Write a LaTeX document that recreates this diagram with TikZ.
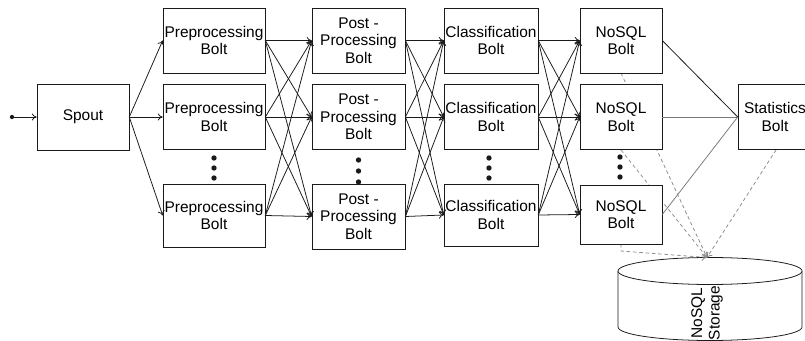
\documentclass[tikz,border=0pt]{standalone}
\usepackage{fontspec}
\setmainfont{Liberation Sans}
\usepackage{xcolor}
\usepackage{tikz}
\usetikzlibrary{arrows.meta,calc}
\definecolor{ink}{HTML}{1A1A1A}
\definecolor{soft}{HTML}{7A7A7A}
\definecolor{dsh}{HTML}{8C8C8C}
\tikzset{
  bolt/.style={draw=ink,fill=white,inner sep=1pt,align=center,minimum height=1.63cm,
    font=\fontsize{11}{12.5}\selectfont},
  arr/.style={-{To[length=3.5pt,width=5pt]},line width=0.55pt,ink},
  feed/.style={line width=0.55pt,soft},
  store/.style={-{To[length=3.5pt,width=5pt]},dash pattern=on 2.5pt off 2pt,line width=0.55pt,dsh},
}

\begin{document}
\begin{tikzpicture}[x=0.025cm,y=-0.025cm]
\useasboundingbox (0,0) rectangle (805,341);
% storage drum first, so the boxes hide the dashed writes
\draw[ink,line width=0.55pt,fill=white] (618,271) -- (618,327)
  arc[start angle=180,end angle=0,x radius=92,y radius=13.5] -- (802,271);
\draw[ink,line width=0.55pt,fill=white] (710,271) ellipse[x radius=92,y radius=13.5];
\coordinate (dbtop) at (707,257.5);
\node[rotate=90,align=center,inner sep=0pt,font=\fontsize{11}{12.5}\selectfont] (db) at (707,313) {NoSQL\\Storage};
\coordinate (q1) at (621,73);
\coordinate (q2) at (621,150);
\coordinate (q3) at (621,244);
\coordinate (q4) at (776,150);
\draw[store] (q1) -- (dbtop);
\draw[store] (q2) -- (dbtop);
\draw[store] (q3) -- ++(0,7) -- (dbtop);
\draw[store] (q4) -- (dbtop);
% input
\coordinate (in) at (12,117);
\fill[ink] (in) circle (1.5pt);
\node[bolt,minimum width=2.3cm,minimum height=1.65cm] (spout) at (83,117) {Spout};
\draw[arr] (in) -- (spout);
% columns of bolts
\node[bolt,minimum width=2.55cm] (pre1) at (214,40.5) {Preprocessing\\Bolt};
\node[bolt,minimum width=2.55cm] (pre2) at (214,117) {Preprocessing\\Bolt};
\node[bolt,minimum width=2.55cm,minimum height=1.58cm] (pre3) at (214,215.5) {Preprocessing\\Bolt};
\node[bolt,minimum width=2.33cm] (post1) at (358.5,40.5) {Post -\\Processing\\Bolt};
\node[bolt,minimum width=2.33cm] (post2) at (358.5,117) {Post -\\Processing\\Bolt};
\node[bolt,minimum width=2.33cm] (post3) at (358.5,216.5) {Post -\\Processing\\Bolt};
\node[bolt,minimum width=2.3cm] (cls1) at (491,40.5) {Classification\\Bolt};
\node[bolt,minimum width=2.3cm] (cls2) at (491,117) {Classification\\Bolt};
\node[bolt,minimum width=2.3cm,minimum height=1.55cm] (cls3) at (491,215) {Classification\\Bolt};
\node[bolt,minimum width=2.05cm] (nsq1) at (621,40.5) {NoSQL\\Bolt};
\node[bolt,minimum width=2.05cm] (nsq2) at (621,117) {NoSQL\\Bolt};
\node[bolt,minimum width=2.05cm,minimum height=1.48cm] (nsq3) at (621,214.5) {NoSQL\\Bolt};
\node[bolt,minimum width=1.85cm] (stat) at (775,117) {Statistics\\Bolt};
% dots between the second and third row
\fill[ink] (214,158) circle (1.9pt) (214,168) circle (1.9pt) (214,178) circle (1.9pt);
\fill[ink] (358.5,160) circle (1.9pt) (358.5,171) circle (1.9pt) (358.5,182) circle (1.9pt);
\fill[ink] (489,158) circle (1.9pt) (489,168) circle (1.9pt) (489,178) circle (1.9pt);
\fill[ink] (620,157) circle (1.9pt) (620,167) circle (1.9pt) (620,177) circle (1.9pt);
% spout to preprocessing
\draw[arr] (spout.east) -- (pre1.west);
\draw[arr] (spout.east) -- (pre2.west);
\draw[arr] (spout.east) -- (pre3.west);
% preprocessing to post-processing
\draw[arr] (pre1.east) -- (post1.west); \draw[arr] (pre1.east) -- (post2.west); \draw[arr] (pre1.east) -- (post3.west);
\draw[arr] (pre2.east) -- (post1.west); \draw[arr] (pre2.east) -- (post2.west); \draw[arr] (pre2.east) -- (post3.west);
\draw[arr] (pre3.east) -- (post1.west); \draw[arr] (pre3.east) -- (post2.west); \draw[arr] (pre3.east) -- (post3.west);
% post-processing to classification
\draw[arr] (post1.east) -- (cls1.west); \draw[arr] (post1.east) -- (cls2.west); \draw[arr] (post1.east) -- (cls3.west);
\draw[arr] (post2.east) -- (cls1.west); \draw[arr] (post2.east) -- (cls2.west); \draw[arr] (post2.east) -- (cls3.west);
\draw[arr] (post3.east) -- (cls1.west); \draw[arr] (post3.east) -- (cls2.west); \draw[arr] (post3.east) -- (cls3.west);
% classification to nosql
\draw[arr] (cls1.east) -- (nsq1.west); \draw[arr] (cls1.east) -- (nsq2.west); \draw[arr] (cls1.east) -- (nsq3.west);
\draw[arr] (cls2.east) -- (nsq1.west); \draw[arr] (cls2.east) -- (nsq2.west); \draw[arr] (cls2.east) -- (nsq3.west);
\draw[arr] (cls3.east) -- (nsq1.west); \draw[arr] (cls3.east) -- (nsq2.west); \draw[arr] (cls3.east) -- (nsq3.west);
% nosql to statistics
\draw[line width=0.55pt,ink] (nsq1.east) -- (stat.west);
\draw[feed] (nsq2.east) -- (stat.west);
\draw[feed] (nsq3.east) -- (stat.west);
\end{tikzpicture}
\end{document}
